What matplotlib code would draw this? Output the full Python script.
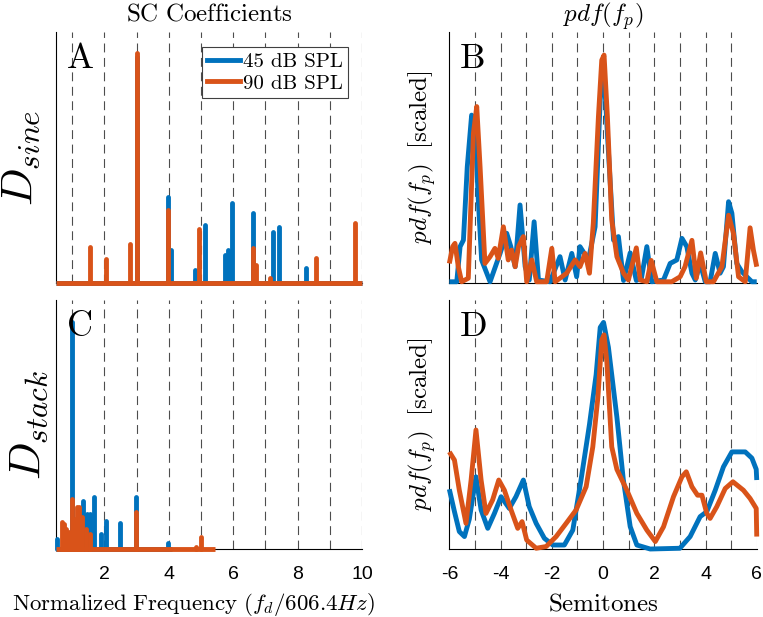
import matplotlib
matplotlib.use('Agg')
import matplotlib.pyplot as plt

# ── Colores y fuentes (estilo MATLAB) ───────────────────────────────────────
BLUE = '#0072BD'
ORANGE = '#D95319'
plt.rcParams['font.family'] = ['Liberation Sans', 'DejaVu Sans']
plt.rcParams['mathtext.fontset'] = 'cm'
plt.rcParams['axes.unicode_minus'] = False

LEGEND_LABELS = ['45 dB SPL', '90 dB SPL']

# ── Panel A: coeficientes SC, D_sine ────────────────────────────────────────
A_BLUE_POS = [3.0, 3.97, 4.06, 4.82, 5.12, 5.76, 5.84, 5.95, 6.62, 7.24, 7.42, 8.27]
A_BLUE_VAL = [0.90, 0.344, 0.13, 0.05, 0.23, 0.11, 0.13, 0.32, 0.28, 0.205, 0.225, 0.058]
A_ORANGE_POS = [1.55, 2.05, 2.80, 3.0, 3.97, 4.95, 6.62, 6.72, 7.15, 8.58, 9.77]
A_ORANGE_VAL = [0.145, 0.094, 0.154, 0.915, 0.29, 0.214, 0.141, 0.07, 0.02, 0.10, 0.24]
A_BASE = (0.5, 10.0)

# ── Panel C: coeficientes SC, D_stack ───────────────────────────────────────
C_BLUE_POS = [0.52, 1.0, 1.33, 1.45, 1.55, 1.67, 1.9, 2.06, 2.5, 2.99, 3.99]
C_BLUE_VAL = [0.04, 0.913, 0.194, 0.14, 0.14, 0.21, 0.06, 0.112, 0.103, 0.208, 0.025]
C_ORANGE_POS = [0.69, 0.76, 0.82, 0.9, 1.0, 1.08, 1.15, 1.22, 1.3, 1.42, 1.57, 2.99, 4.85, 4.99]
C_ORANGE_VAL = [0.11, 0.10, 0.08, 0.07, 0.2, 0.12, 0.17, 0.17, 0.13, 0.08, 0.06, 0.147, 0.01, 0.05]
C_BLUE_BASE = (0.5, 4.1)
C_ORANGE_BASE = (0.5, 5.45)

# ── Panel B: pdf(f_p), D_sine ───────────────────────────────────────────────
B_BLUE_X = [-6.0, -5.71, -5.58, -5.45, -5.30, -5.13, -5.0, -4.87, -4.74, -4.41,
            -4.02, -3.76, -3.60, -3.43, -3.24, -3.04, -2.88, -2.69, -2.52, -2.07,
            -1.68, -1.48, -1.22, -1.03, -0.90, -0.57, -0.31, -0.11, 0.02, 0.17,
            0.41, 0.60, 0.80, 1.06, 1.30, 1.50, 1.71, 1.90, 2.36, 2.62,
            2.88, 3.08, 3.27, 3.47, 3.60, 3.79, 3.99, 4.18, 4.38, 4.57,
            4.70, 4.90, 5.03, 5.22, 5.42, 5.61, 5.81, 6.0]
B_BLUE_Y = [0.005, 0.005, 0.145, 0.171, 0.463, 0.669, 0.649, 0.331, 0.092, 0.005,
            0.118, 0.198, 0.145, 0.065, 0.311, 0.065, 0.012, 0.244, 0.012, 0.005,
            0.105, 0.012, 0.118, 0.025, 0.145, 0.092, 0.224, 0.729, 0.875, 0.596,
            0.171, 0.185, 0.01, 0.12, 0.01, 0.02, 0.145, 0.005, 0.012, 0.078,
            0.092, 0.178, 0.145, 0.039, 0.012, 0.078, 0.005, 0.005, 0.118, 0.039,
            0.065, 0.324, 0.278, 0.078, 0.045, 0.025, 0.005, 0.005]
B_ORANGE_X = [-6.0, -5.87, -5.78, -5.65, -5.52, -5.26, -5.06, -4.93, -4.80, -4.61,
              -4.41, -4.22, -4.09, -3.89, -3.70, -3.57, -3.43, -3.30, -3.11, -2.98,
              -2.78, -2.59, -2.20, -2.0, -1.87, -1.42, -1.09, -0.90, -0.70, -0.53,
              -0.38, -0.18, -0.05, 0.04, 0.17, 0.34, 0.54, 0.80, 0.99, 1.30,
              1.45, 1.71, 1.88, 2.10, 2.68, 3.01, 3.20, 3.47, 3.64, 3.81,
              4.03, 4.31, 4.64, 4.90, 5.09, 5.29, 5.55, 5.74, 5.87, 6.0]
B_ORANGE_Y = [0.078, 0.145, 0.158, 0.065, 0.005, 0.019, 0.596, 0.703, 0.463, 0.078,
              0.105, 0.138, 0.098, 0.224, 0.092, 0.131, 0.065, 0.145, 0.185, 0.005,
              0.092, 0.005, 0.005, 0.138, 0.005, 0.039, 0.092, 0.065, 0.118, 0.039,
              0.238, 0.663, 0.888, 0.908, 0.663, 0.251, 0.105, 0.039, 0.012, 0.14,
              0.012, 0.005, 0.09, 0.005, 0.005, 0.025, 0.065, 0.17, 0.019, 0.12,
              0.005, 0.005, 0.065, 0.27, 0.198, 0.025, 0.005, 0.22, 0.131, 0.065]

# ── Panel D: pdf(f_p), D_stack ──────────────────────────────────────────────
D_BLUE_X = [-6.0, -5.8, -5.61, -5.41, -5.22, -4.96, -4.76, -4.5, -4.24, -3.98,
            -3.66, -3.4, -3.11, -2.88, -2.61, -2.29, -1.96, -1.51, -1.18, -0.86,
            -0.53, -0.27, -0.11, 0.02, 0.21, 0.54, 0.79, 1.06, 1.32, 1.84,
            3.0, 3.4, 3.79, 4.05, 4.38, 4.7, 5.03, 5.55, 5.81, 5.98, 6.0]
D_BLUE_Y = [0.24, 0.15, 0.07, 0.05, 0.12, 0.29, 0.157, 0.083, 0.143, 0.21,
            0.163, 0.21, 0.277, 0.17, 0.103, 0.043, 0.016, 0.016, 0.076, 0.277,
            0.5, 0.70, 0.89, 0.91, 0.81, 0.53, 0.28, 0.09, 0.016, 0.0,
            0.003, 0.05, 0.13, 0.15, 0.236, 0.33, 0.39, 0.39, 0.365, 0.32, 0.277]
D_ORANGE_X = [-6.0, -5.8, -5.61, -5.35, -5.15, -4.96, -4.76, -4.57, -4.31, -4.07,
              -3.85, -3.59, -3.33, -3.16, -2.98, -2.61, -2.22, -1.83, -1.44, -1.05,
              -0.66, -0.4, -0.2, -0.05, 0.04, 0.15, 0.34, 0.54, 0.93, 1.32,
              1.71, 2.04, 2.36, 2.75, 3.08, 3.25, 3.47, 3.69, 3.86, 4.05,
              4.18, 4.44, 4.77, 5.07, 5.48, 5.74, 5.98, 6.0]
D_ORANGE_Y = [0.39, 0.357, 0.236, 0.103, 0.277, 0.478, 0.277, 0.143, 0.197, 0.277,
              0.236, 0.157, 0.083, 0.11, 0.036, 0.003, 0.01, 0.05, 0.103, 0.157,
              0.25, 0.41, 0.61, 0.84, 0.86, 0.75, 0.41, 0.32, 0.236, 0.143,
              0.076, 0.03, 0.089, 0.21, 0.29, 0.31, 0.25, 0.216, 0.216, 0.143,
              0.123, 0.17, 0.243, 0.27, 0.236, 0.203, 0.163, 0.05]

SC_GRID = list(range(1, 11))
SEMI_GRID = list(range(-5, 6))
LW = 3.5


def style(ax, xlim, grid):
    ax.set_xlim(*xlim)
    ax.set_ylim(0, 1)
    for s in ['top', 'right']:
        ax.spines[s].set_visible(False)
    ax.set_yticks([])
    for g in grid:
        ax.axvline(g, color='0.3', lw=0.8, ls=(0, (8, 5)), zorder=1)
    ax.tick_params(axis='x', length=0, labelsize=14, pad=12)


def spikes(ax, pos, val, base, color, label=None):
    ax.hlines(0, base[0], base[1], color=color, lw=LW, zorder=3, clip_on=False)
    ax.vlines(pos, 0, val, color=color, lw=LW, zorder=3, clip_on=False,
              capstyle='round')
    if label:
        ax.plot([], [], color=color, lw=LW, label=label)


def curve(ax, x, y, color):
    ax.plot(x, y, color=color, lw=LW, solid_joinstyle='round',
            solid_capstyle='butt', zorder=3, clip_on=False)


fig = plt.figure(figsize=(7.63, 6.17), dpi=100)
axA = fig.add_axes([0.0734, 0.5413, 0.401, 0.4068])
axB = fig.add_axes([0.5889, 0.5413, 0.4029, 0.4068])
axC = fig.add_axes([0.0734, 0.1102, 0.401, 0.4036])
axD = fig.add_axes([0.5889, 0.1102, 0.4029, 0.4036])

style(axA, (0.5, 10), SC_GRID)
style(axC, (0.5, 10), SC_GRID)
style(axB, (-6, 6), SEMI_GRID)
style(axD, (-6, 6), SEMI_GRID)

axA.set_xticks([])
axB.set_xticks([])
axC.set_xticks([2, 4, 6, 8, 10])
axD.set_xticks([-6, -4, -2, 0, 2, 4, 6])
axD.axvline(6, color='0.85', lw=0.8, zorder=1)

spikes(axA, A_BLUE_POS, A_BLUE_VAL, A_BASE, BLUE, LEGEND_LABELS[0])
spikes(axA, A_ORANGE_POS, A_ORANGE_VAL, A_BASE, ORANGE, LEGEND_LABELS[1])
spikes(axC, C_BLUE_POS, C_BLUE_VAL, C_BLUE_BASE, BLUE)
spikes(axC, C_ORANGE_POS, C_ORANGE_VAL, C_ORANGE_BASE, ORANGE)

curve(axB, B_BLUE_X, B_BLUE_Y, BLUE)
curve(axB, B_ORANGE_X, B_ORANGE_Y, ORANGE)
curve(axD, D_BLUE_X, D_BLUE_Y, BLUE)
curve(axD, D_ORANGE_X, D_ORANGE_Y, ORANGE)

leg = axA.legend(loc='upper right', bbox_to_anchor=(0.953, 0.94), borderaxespad=0,
                 prop={'family': 'serif', 'size': 15}, handlelength=1.6,
                 handletextpad=0.1, labelspacing=0.15, borderpad=0.25,
                 fancybox=False, framealpha=1, edgecolor='0.25')
leg.get_frame().set_linewidth(0.8)
for t in leg.get_texts():
    t.set_fontfamily('cmr10')

axA.set_title(r'$\mathrm{SC\ Coefficients}$', fontsize=18, pad=8.5)
axB.set_title(r'$pdf(f_p)$', fontsize=18, pad=3.5)
axA.set_ylabel(r'$D_{sine}$', fontsize=32, labelpad=10)
axC.set_ylabel(r'$D_{stack}$', fontsize=32, labelpad=4)
axB.set_ylabel(r'$pdf(f_p)\ \ \mathrm{[scaled]}$', fontsize=18, labelpad=8)
axD.set_ylabel(r'$pdf(f_p)\ \ \mathrm{[scaled]}$', fontsize=18, labelpad=8)
axC.set_xlabel(r'$\mathrm{Normalized\ Frequency\ }(f_d/606.4Hz)$', fontsize=16.5, labelpad=6)
axC.xaxis.set_label_coords(0.45, -0.17)
axD.set_xlabel(r'$\mathrm{Semitones}$', fontsize=18, labelpad=6)

for ax, letter in zip([axA, axB, axC, axD], 'ABCD'):
    ax.text(0.032, 0.965, r'$\mathrm{%s}$' % letter, fontsize=26, va='top', ha='left',
            transform=ax.transAxes, zorder=5)

fig.savefig('out.png', dpi=100)
